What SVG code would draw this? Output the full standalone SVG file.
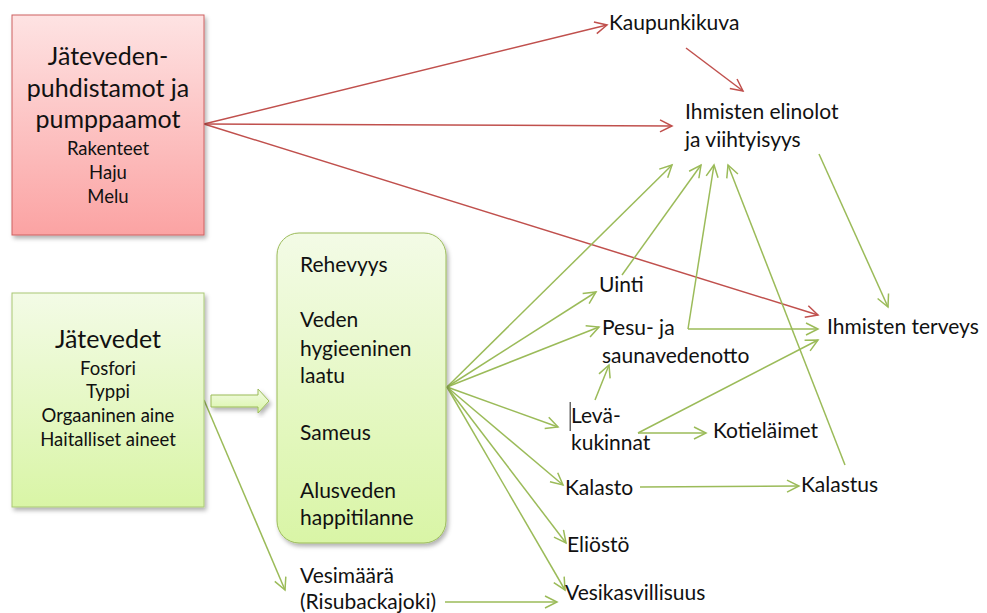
<svg xmlns="http://www.w3.org/2000/svg" width="987" height="613" viewBox="0 0 987 613">
<defs>
<linearGradient id="gRed" x1="0" y1="0" x2="0" y2="1"><stop offset="0" stop-color="#fee3e3"/><stop offset="1" stop-color="#fba3a3"/></linearGradient>
<linearGradient id="gGreen" x1="0" y1="0" x2="0" y2="1"><stop offset="0" stop-color="#f3fbe6"/><stop offset="1" stop-color="#d9f5a6"/></linearGradient>
<filter id="sh" x="-10%" y="-10%" width="130%" height="130%"><feDropShadow dx="2" dy="3" stdDeviation="2" flood-color="#000" flood-opacity="0.3"/></filter>
<marker id="ag" markerUnits="userSpaceOnUse" markerWidth="16" markerHeight="14" viewBox="-13 -7 16 14" refX="0" refY="0" orient="auto"><path d="M-12,-6 L0,0 L-12,6" fill="none" stroke="#9bbb59" stroke-width="1.5"/></marker>
<marker id="ar" markerUnits="userSpaceOnUse" markerWidth="16" markerHeight="14" viewBox="-13 -7 16 14" refX="0" refY="0" orient="auto"><path d="M-12,-6 L0,0 L-12,6" fill="none" stroke="#c0504d" stroke-width="1.5"/></marker>
<style>
text{font-family:Lato,"Liberation Sans",sans-serif;fill:#111}
.big{font-size:25px;text-anchor:middle}
.mid{font-size:18.5px;text-anchor:middle}
.lbl{font-size:21px}
.g{stroke:#9bbb59;stroke-width:1.5;fill:none;marker-end:url(#ag)}
.r{stroke:#c0504d;stroke-width:1.5;fill:none;marker-end:url(#ar)}
</style>
</defs>
<rect width="987" height="613" fill="#fff"/>

<g id="connectors">
<line class="r" x1="204" y1="124" x2="607" y2="25"/>
<line class="r" x1="204" y1="124" x2="672" y2="126"/>
<line class="r" x1="204" y1="124" x2="818" y2="315"/>
<line class="r" x1="686" y1="48" x2="743" y2="91"/>

<line class="g" x1="447" y1="387" x2="672" y2="165"/>
<line class="g" x1="447" y1="387" x2="596" y2="292"/>
<line class="g" x1="447" y1="387" x2="599" y2="327"/>
<line class="g" x1="447" y1="387" x2="558" y2="427"/>
<line class="g" x1="447" y1="387" x2="563" y2="485"/>
<line class="g" x1="447" y1="387" x2="566" y2="543"/>
<line class="g" x1="447" y1="387" x2="565" y2="590"/>
<line class="g" x1="204" y1="400" x2="285" y2="590"/>
<line class="g" x1="445" y1="602" x2="557" y2="602"/>
<line class="g" x1="622" y1="275" x2="701" y2="165"/>
<line class="g" x1="688" y1="329" x2="714" y2="165"/>
<line class="g" x1="688" y1="329" x2="818" y2="329"/>
<line class="g" x1="845" y1="465" x2="728" y2="165"/>
<line class="g" x1="819" y1="154" x2="888" y2="307"/>
<line class="g" x1="595" y1="400" x2="609" y2="365"/>
<line class="g" x1="638" y1="433" x2="706" y2="433"/>
<line class="g" x1="638" y1="433" x2="818" y2="340"/>
<line class="g" x1="640" y1="487" x2="799" y2="486"/>
</g>

<g id="puhdistamot">
<rect x="12" y="15" width="192" height="220" fill="url(#gRed)" stroke="#cd6060" stroke-width="1" filter="url(#sh)"/>
<text class="big" x="108" y="65">Jäteveden-</text>
<text class="big" x="108" y="97">puhdistamot ja</text>
<text class="big" x="108" y="128">pumppaamot</text>
<text class="mid" x="108" y="155">Rakenteet</text>
<text class="mid" x="108" y="179">Haju</text>
<text class="mid" x="108" y="203">Melu</text>
</g>

<g id="jatevedet">
<rect x="12" y="293" width="192" height="214" fill="url(#gGreen)" stroke="#a9c875" stroke-width="1" filter="url(#sh)"/>
<text class="big" x="108" y="348">Jätevedet</text>
<text class="mid" x="108" y="375">Fosfori</text>
<text class="mid" x="108" y="398">Typpi</text>
<text class="mid" x="108" y="422">Orgaaninen aine</text>
<text class="mid" x="108" y="446">Haitalliset aineet</text>
</g>

<g id="blockarrow">
<path d="M211,395 L258,395 L258,389 L269,401 L258,413 L258,407 L211,407 Z" fill="url(#gGreen)" stroke="#9bbb59" stroke-width="1" filter="url(#sh)"/>
</g>

<g id="vaikutukset">
<rect x="277" y="233" width="169" height="310" rx="22" fill="url(#gGreen)" stroke="#9bbb59" stroke-width="1" filter="url(#sh)"/>
<text class="lbl" x="300" y="272">Rehevyys</text>
<text class="lbl" x="300" y="327">Veden</text>
<text class="lbl" x="300" y="356">hygieeninen</text>
<text class="lbl" x="300" y="383">laatu</text>
<text class="lbl" x="300" y="440">Sameus</text>
<text class="lbl" x="300" y="498">Alusveden</text>
<text class="lbl" x="300" y="525">happitilanne</text>
</g>

<g id="vesimaara">
<text class="lbl" x="300" y="583">Vesimäärä</text>
<text class="lbl" x="300" y="609">(Risubackajoki)</text>
</g>

<g id="kaupunkikuva"><text class="lbl" x="609" y="30">Kaupunkikuva</text></g>
<g id="elinolot">
<text class="lbl" x="685" y="119">Ihmisten elinolot</text>
<text class="lbl" x="685" y="147">ja viihtyisyys</text>
</g>
<g id="uinti"><text class="lbl" x="599" y="292">Uinti</text></g>
<g id="pesu">
<text class="lbl" x="602" y="335">Pesu- ja</text>
<text class="lbl" x="602" y="363">saunavedenotto</text>
</g>
<g id="levakukinnat">
<rect x="569.5" y="402" width="1.5" height="29" fill="#666"/>
<text class="lbl" x="571" y="423">Levä-</text>
<text class="lbl" x="571" y="450">kukinnat</text>
</g>
<g id="kotielaimet"><text class="lbl" x="713" y="438">Kotieläimet</text></g>
<g id="kalasto"><text class="lbl" x="565" y="495">Kalasto</text></g>
<g id="kalastus"><text class="lbl" x="801" y="492">Kalastus</text></g>
<g id="eliosto"><text class="lbl" x="567" y="552">Eliöstö</text></g>
<g id="vesikasvillisuus"><text class="lbl" x="565" y="600">Vesikasvillisuus</text></g>
<g id="terveys"><text class="lbl" x="827" y="334">Ihmisten terveys</text></g>
</svg>
